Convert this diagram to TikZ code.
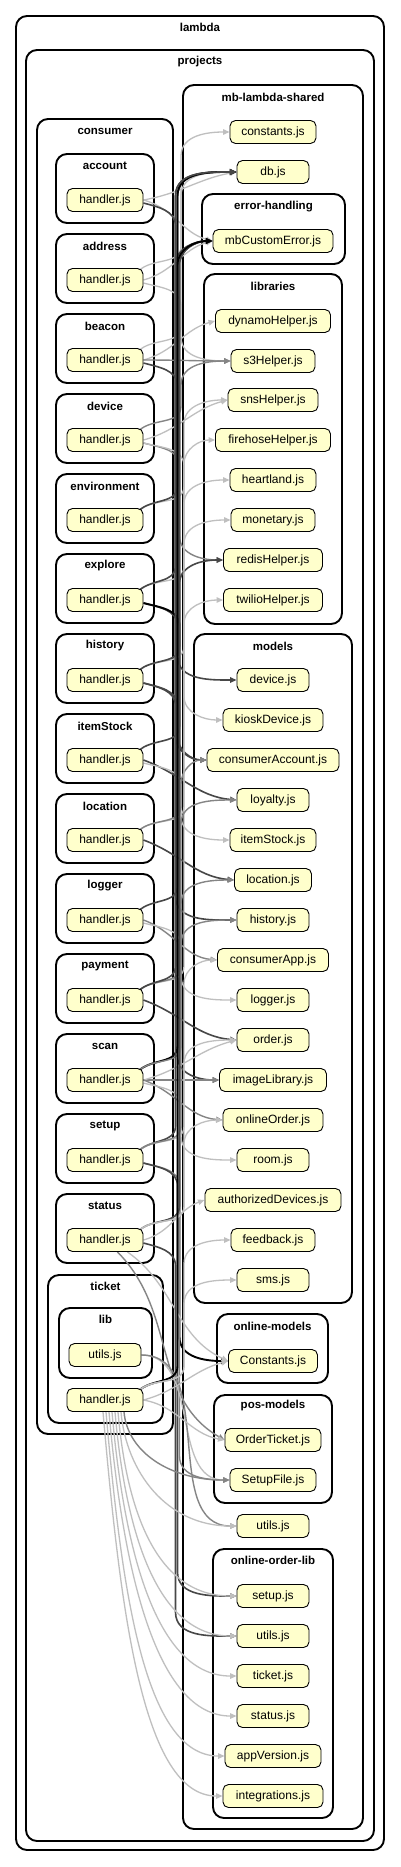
\documentclass[tikz,border=0pt]{standalone}
\usepackage{fontspec}
\setmainfont{Liberation Sans}
\usetikzlibrary{arrows.meta,calc}
\pgfdeclarelayer{bg}
\pgfdeclarelayer{edges}
\pgfsetlayers{bg,edges,main}
\definecolor{nodefill}{HTML}{FFFFCC}
\newcommand\clu[7]{\draw[cl] (#1,-#2) rectangle (#3,-#4); \node[cll] (lbl#7) at ({(#1+#3)/2},-#6) {#5};}
\newcommand\fn[5]{\node[fnode, minimum width=#4pt] (#1) at (#2,-#3) {#5};}
\newcommand\edX[5]{\draw[#1] (#2.east) to[out=#4,in=#5] (#3.west);}
\newcommand\edD[4]{\draw[#1] ([yshift=-3pt]#2.east) to[out=-15,in=90] ([yshift=-26pt]#2.east -| #4) -- ([yshift=24pt]#3.west -| #4) to[out=-90,in=180] (#3.west);}
\newcommand\edU[4]{\draw[#1] ([xshift=-5pt,yshift=-3pt]#2.north east) to[out=45,in=-90] ([yshift=22pt]#2.north east -| #4) -- ([yshift=-24pt]#3.west -| #4) to[out=90,in=180] (#3.west);}
\newcommand\edF[6]{\draw[#1] ([xshift=#4pt]#2.south) to[out=-85,in=180,out distance=#5pt,in distance=#6pt] (#3.west);}
\begin{document}
\begin{tikzpicture}[x=1pt,y=1pt,
  cl/.style={draw=black, line width=1.9pt, rounded corners=11pt},
  cll/.style={font=\bfseries\fontsize{11.5}{13}\selectfont, inner sep=0pt},
  fnode/.style={draw=black, line width=0.9pt, fill=nodefill, rounded corners=5.5pt, minimum height=23pt, inner sep=0pt, font=\fontsize{12}{14}\selectfont},
  eL/.style={draw=black!25, line width=1.3pt, -{Triangle[length=6.5pt,width=5.5pt]}},
  eM/.style={draw=black!48, line width=1.4pt, -{Triangle[length=6.5pt,width=5.5pt]}},
  eK/.style={draw=black!72, line width=1.6pt, -{Triangle[length=6.5pt,width=5.5pt]}},
  eB/.style={draw=black, line width=1.9pt, -{Triangle[length=7pt,width=6pt]}}]
\useasboundingbox (0,0) rectangle (400,-1867);
\begin{pgfonlayer}{bg}
\fill[white] (0,0) rectangle (400,-1867);
\clu{16}{16}{384}{1850}{lambda}{27}{lam}
\clu{26}{50}{374}{1841}{projects}{62}{proj}
\clu{183}{85}{363}{1829}{mb-lambda-shared}{97}{mbl}
\clu{37}{119}{173}{1434}{consumer}{131}{cons}
\clu{56}{154}{154}{223}{account}{166}{acc}
\clu{56}{234}{154}{303}{address}{246}{add}
\clu{56}{314}{154}{383}{beacon}{326}{bea}
\clu{56}{394}{154}{463}{device}{406}{dev}
\clu{56}{474}{154}{543}{environment}{486}{env}
\clu{56}{554}{154}{623}{explore}{566}{exp}
\clu{56}{634}{154}{703}{history}{646}{his}
\clu{56}{714}{154}{783}{itemStock}{726}{its}
\clu{56}{794}{154}{863}{location}{806}{loc}
\clu{56}{874}{154}{943}{logger}{886}{log}
\clu{56}{954}{154}{1023}{payment}{966}{pay}
\clu{56}{1034}{154}{1103}{scan}{1046}{sca}
\clu{56}{1114}{154}{1183}{setup}{1126}{set}
\clu{56}{1194}{154}{1263}{status}{1206}{sta}
\clu{48}{1275}{163}{1423}{ticket}{1286}{tic}
\clu{59}{1308}{152}{1378}{lib}{1319}{lib}
\clu{202}{194}{345}{264}{error-handling}{207}{err}
\clu{204}{274}{342}{624}{libraries}{286}{libs}
\clu{194}{634}{352}{1303}{models}{646}{mod}
\clu{217}{1314}{328}{1383}{online-models}{1326}{onm}
\clu{214}{1395}{332}{1503}{pos-models}{1406}{pos}
\clu{213}{1549}{333}{1818}{online-order-lib}{1560}{ool}
\end{pgfonlayer}
% consumer handlers
\fn{hAcc}{105}{200}{76}{handler.js}
\fn{hAdd}{105}{280}{76}{handler.js}
\fn{hBea}{105}{360}{76}{handler.js}
\fn{hDev}{105}{440}{76}{handler.js}
\fn{hEnv}{105}{520}{76}{handler.js}
\fn{hExp}{105}{600}{76}{handler.js}
\fn{hHis}{105}{680}{76}{handler.js}
\fn{hIts}{105}{760}{76}{handler.js}
\fn{hLoc}{105}{840}{76}{handler.js}
\fn{hLog}{105}{920}{76}{handler.js}
\fn{hPay}{105}{1000}{76}{handler.js}
\fn{hSca}{105}{1080}{76}{handler.js}
\fn{hSet}{105}{1160}{76}{handler.js}
\fn{hSta}{105}{1240}{76}{handler.js}
\fn{uLib}{105}{1355}{72}{utils.js}
\fn{hTic}{105}{1400}{76}{handler.js}
% shared
\fn{nConst}{273}{132}{86}{constants.js}
\fn{nDb}{273}{172}{72}{db.js}
\fn{nMbErr}{273}{241}{120}{mbCustomError.js}
\fn{nDyn}{273}{321}{115}{dynamoHelper.js}
\fn{nS3}{273}{361}{84}{s3Helper.js}
\fn{nSns}{273}{400}{90}{snsHelper.js}
\fn{nFire}{273}{440}{115}{firehoseHelper.js}
\fn{nHeart}{273}{480}{86}{heartland.js}
\fn{nMon}{273}{520}{84}{monetary.js}
\fn{nRedis}{273}{560}{99}{redisHelper.js}
\fn{nTwil}{273}{600}{99}{twilioHelper.js}
\fn{nMDev}{273}{680}{72}{device.js}
\fn{nKiosk}{273}{720}{100}{kioskDevice.js}
\fn{nCAcc}{273}{760}{132}{consumerAccount.js}
\fn{nLoy}{273}{800}{72}{loyalty.js}
\fn{nMItem}{273}{840}{86}{itemStock.js}
\fn{nMLoc}{273}{880}{77}{location.js}
\fn{nMHist}{273}{920}{72}{history.js}
\fn{nCApp}{273}{960}{111}{consumerApp.js}
\fn{nMLog}{273}{1000}{72}{logger.js}
\fn{nOrder}{273}{1040}{72}{order.js}
\fn{nImg}{273}{1080}{107}{imageLibrary.js}
\fn{nOnl}{273}{1120}{100}{onlineOrder.js}
\fn{nRoom}{273}{1160}{72}{room.js}
\fn{nAuth}{273}{1200}{136}{authorizedDevices.js}
\fn{nFeed}{273}{1240}{84}{feedback.js}
\fn{nSms}{273}{1280}{72}{sms.js}
\fn{nConstants}{273}{1361}{89}{Constants.js}
\fn{nOTic}{273}{1440}{96}{OrderTicket.js}
\fn{nSetF}{273}{1480}{86}{SetupFile.js}
\fn{nSUtil}{273}{1526}{72}{utils.js}
\fn{nSetup}{273}{1596}{72}{setup.js}
\fn{nOUtil}{273}{1636}{72}{utils.js}
\fn{nTick}{273}{1676}{72}{ticket.js}
\fn{nStat}{273}{1716}{72}{status.js}
\fn{nAppV}{273}{1756}{96}{appVersion.js}
\fn{nInteg}{273}{1796}{100}{integrations.js}
% bus lanes
\coordinate (b1) at (175.5,0);
\coordinate (b2) at (177.5,0);
\coordinate (b3) at (179.5,0);
\coordinate (b4) at (181,0);
\coordinate (b5) at (184,0);
\begin{pgfonlayer}{edges}
% account
\edX{eL}{hAcc}{nDb}{10}{190}
\edX{eL}{hAcc}{nMbErr}{-15}{165}
\edD{eK}{hAcc}{nCAcc}{b1}
% address
\edU{eL}{hAdd}{nConst}{b4}
\edX{eL}{hAdd}{nMbErr}{15}{195}
\edD{eL}{hAdd}{nS3}{b4}
% beacon
\edU{eL}{hBea}{nDb}{b4}
\edX{eL}{hBea}{nDyn}{15}{195}
\edX{eM}{hBea}{nS3}{0}{180}
\edD{eK}{hBea}{nMDev}{b2}
% device
\edU{eM}{hDev}{nS3}{b4}
\edX{eL}{hDev}{nSns}{15}{195}
\edD{eM}{hDev}{nRedis}{b3}
\edD{eL}{hDev}{nKiosk}{b5}
% environment
\edU{eL}{hEnv}{nSns}{b5}
\edU{eK}{hEnv}{nMbErr}{b2}
% explore
\edU{eL}{hExp}{nFire}{b5}
\edU{eK}{hExp}{nDb}{b1}
\edD{eK}{hExp}{nImg}{b2}
\edD{eB}{hExp}{nConstants}{b3}
% history
\edU{eL}{hHis}{nHeart}{b5}
\edU{eK}{hHis}{nMbErr}{b3}
\edD{eK}{hHis}{nCAcc}{b2}
\edD{eK}{hHis}{nMHist}{b1}
% itemStock
\edU{eK}{hIts}{nRedis}{b3}
\edX{eK}{hIts}{nLoy}{-20}{175}
\edD{eL}{hIts}{nMItem}{b4}
% location
\edU{eL}{hLoc}{nMon}{b5}
\edX{eK}{hLoc}{nMLoc}{-20}{175}
\edU{eM}{hLoc}{nCAcc}{b4}
% logger
\edU{eK}{hLog}{nDb}{b2}
\edX{eM}{hLog}{nCApp}{-20}{175}
\edD{eL}{hLog}{nMLog}{b4}
% payment
\edU{eL}{hPay}{nTwil}{b5}
\edX{eK}{hPay}{nOrder}{-20}{175}
\edU{eM}{hPay}{nLoy}{b4}
\edU{eK}{hPay}{nMbErr}{b1}
% scan
\edU{eB}{hSca}{nDb}{b2}
\edX{eM}{hSca}{nImg}{0}{180}
\edX{eL}{hSca}{nOrder}{15}{195}
\edX{eM}{hSca}{nOnl}{-20}{175}
\edD{eL}{hSca}{nRoom}{b4}
\edU{eM}{hSca}{nMLoc}{b4}
% setup
\edU{eK}{hSet}{nDb}{b1}
\edU{eL}{hSet}{nCApp}{b5}
\edD{eM}{hSet}{nSetF}{b3}
\edD{eK}{hSet}{nSetup}{b2}
\edU{eM}{hSet}{nMHist}{b4}
% status
\edU{eK}{hSta}{nMbErr}{b3}
\edX{eL}{hSta}{nAuth}{15}{200}
\draw[eL] ([xshift=-16pt]hSta.south east) to[out=-35,in=155] (nConstants.west);
\draw[eM] ([xshift=-26pt]hSta.south east) to[out=-45,in=150] (nOTic.west);
\edD{eK}{hSta}{nOUtil}{b1}
\edU{eL}{hSta}{nOnl}{b5}
\edU{eL}{hSta}{nOrder}{b5}
% lib utils
\edX{eL}{uLib}{nSetF}{0}{180}
\edX{eM}{uLib}{nSUtil}{0}{180}
% ticket handler
\edU{eB}{hTic}{nMbErr}{b2}
\edU{eL}{hTic}{nFeed}{b5}
\edU{eL}{hTic}{nSms}{b5}
\edX{eL}{hTic}{nConstants}{15}{195}
\edX{eL}{hTic}{nOTic}{-10}{170}
\edF{eM}{hTic}{nSetF}{19}{40}{60}
\edF{eL}{hTic}{nSUtil}{16}{60}{70}
\edF{eL}{hTic}{nSetup}{13}{100}{80}
\edF{eL}{hTic}{nOUtil}{10}{120}{80}
\edF{eL}{hTic}{nTick}{7}{140}{80}
\edF{eL}{hTic}{nStat}{4}{160}{80}
\edF{eL}{hTic}{nAppV}{1}{180}{80}
\edF{eL}{hTic}{nInteg}{-2}{200}{80}
\end{pgfonlayer}
\end{tikzpicture}
\end{document}
